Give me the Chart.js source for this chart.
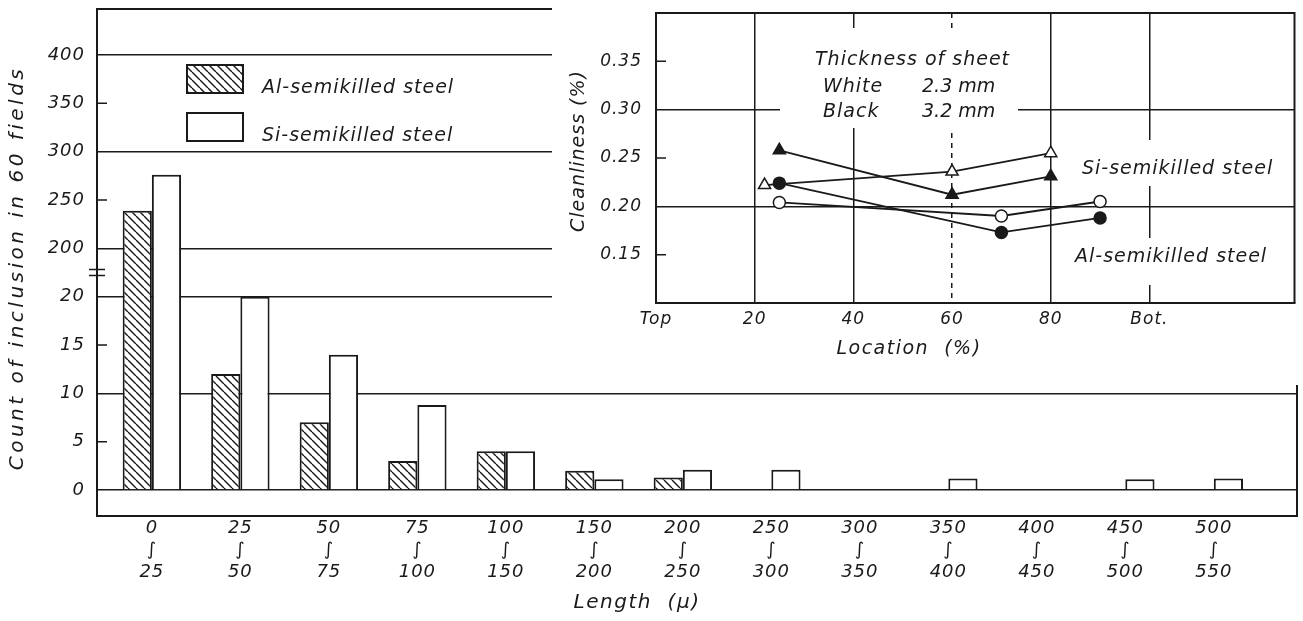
<!DOCTYPE html>
<html>
<head>
    <title>Count of inclusion by length</title>
    <style>
        body {
            margin: 0;
            background: #fff;
        }
        #wrap {
            position: relative;
            width: 1303px;
            height: 621px;
        }
        #main {
            position: absolute;
            left: 0;
            top: 0;
        }
        #inset {
            position: absolute;
            left: 552px;
            top: 0;
            background: #fff;
        }
    </style>
    <script src="https://cdn.jsdelivr.net/npm/chart.js"></script>
</head>
<body>
<div id="wrap">
    <canvas id="main" width="1303" height="621"></canvas>
    <canvas id="inset" width="751" height="385"></canvas>
</div>
<script>
    // main chart: inclusion counts per length class (microns)
    const binLow  = ['0', '25', '50', '75', '100', '150', '200', '250', '300', '350', '400', '450', '500'];
    const binHigh = ['25', '50', '75', '100', '150', '200', '250', '300', '350', '400', '450', '500', '550'];
    const alCount = [239, 12, 7, 3, 4, 2, 1.3, 0, 0, 0, 0, 0, 0];
    const siCount = [276, 20, 14, 8.8, 4, 1.1, 2.1, 2.1, 0, 1.2, 0, 1.1, 1.2];
    const countTicks = [0, 5, 10, 15, 20, 200, 250, 300, 350, 400];
    const countLines = [0, 10, 20, 200, 300, 400];

    // inset: cleanliness vs location in the ingot
    const locTicks = [0, 20, 40, 60, 80, 100];
    const locLabels = ['Top', '20', '40', '60', '80', 'Bot.'];
    const cleanTicks = [0.15, 0.20, 0.25, 0.30, 0.35];
    const cleanLines = [0.20, 0.30];
    const siWhiteLoc = [22, 60, 80];
    const siWhiteVal = [0.222, 0.236, 0.255];
    const siBlackLoc = [25, 60, 80];
    const siBlackVal = [0.258, 0.212, 0.231];
    const alWhiteLoc = [25, 70, 90];
    const alWhiteVal = [0.204, 0.190, 0.205];
    const alBlackLoc = [25, 70, 90];
    const alBlackVal = [0.224, 0.173, 0.188];

    const INK = '#1a1a1a';
    const NONE = 'rgba(0,0,0,0)';

    Chart.defaults.font.family = "'DejaVu Sans', sans-serif";
    Chart.defaults.font.style = 'italic';
    Chart.defaults.font.size = 18;
    Chart.defaults.color = INK;
    Chart.defaults.animation = false;

    // broken axis: 0-20 in steps of 5, then 200-400 in steps of 50, same spacing
    function toAxis(v) {
        return v <= 20 ? v / 5 : 4 + (v - 150) / 50;
    }

    function label(ctx, str, x, y, opt) {
        ctx.save();
        ctx.font = 'italic ' + (opt.size || 19) + "px 'DejaVu Sans'";
        ctx.letterSpacing = (opt.spacing === undefined ? 1 : opt.spacing) + 'px';
        ctx.fillStyle = INK;
        ctx.textAlign = opt.align || 'left';
        ctx.textBaseline = opt.baseline || 'alphabetic';
        ctx.translate(x, y);
        if (opt.rotate) ctx.rotate(opt.rotate);
        ctx.fillText(str, 0, 0);
        ctx.restore();
    }

    function hatch(target) {
        const c = document.createElement('canvas');
        c.width = 8;
        c.height = 8;
        const g = c.getContext('2d');
        g.fillStyle = '#fff';
        g.fillRect(0, 0, 8, 8);
        g.strokeStyle = INK;
        g.lineWidth = 1.4;
        g.beginPath();
        for (let k = -1; k <= 1; k++) {
            g.moveTo(k * 8, 0);
            g.lineTo(k * 8 + 8, 8);
        }
        g.stroke();
        return target.getContext('2d').createPattern(c, 'repeat');
    }

    // keep the plot box where it is in the figure, whatever the labels need
    function fixBox(width, height) {
        return s => {
            if (width) s.width = width;
            if (height) s.height = height;
            s.paddingTop = 0;
            s.paddingBottom = 0;
            s.paddingLeft = 0;
            s.paddingRight = 0;
        };
    }

    const spacing = {
        id: 'spacing',
        beforeDraw(chart) {
            chart.ctx.letterSpacing = '1px';
        }
    };

    const mainDecor = {
        id: 'mainDecor',
        afterDraw(chart) {
            const ctx = chart.ctx;
            const a = chart.chartArea;
            const y = chart.scales.y;
            ctx.save();
            ctx.strokeStyle = INK;
            ctx.lineWidth = 2;
            ctx.beginPath();
            ctx.moveTo(a.left, a.top);
            ctx.lineTo(a.right, a.top);
            ctx.lineTo(a.right, a.bottom);
            ctx.stroke();

            // short ticks where no grid line runs across
            ctx.lineWidth = 1.5;
            ctx.beginPath();
            countTicks.filter(v => !countLines.includes(v)).forEach(v => {
                const py = y.getPixelForValue(toAxis(v));
                ctx.moveTo(a.left, py);
                ctx.lineTo(a.left + 10, py);
            });
            const pb = y.getPixelForValue(4.5);
            ctx.moveTo(a.left - 8, pb - 3);
            ctx.lineTo(a.left + 8, pb - 3);
            ctx.moveTo(a.left - 8, pb + 3);
            ctx.lineTo(a.left + 8, pb + 3);
            ctx.stroke();

            // legend
            chart.data.datasets.forEach((ds, i) => {
                const top = 65 + i * 48;
                ctx.fillStyle = ds.backgroundColor;
                ctx.fillRect(187, top, 56, 28);
                ctx.lineWidth = 2;
                ctx.strokeRect(187, top, 56, 28);
                label(ctx, ds.label, 262, top + 28, {});
            });
            ctx.restore();

            label(ctx, 'Count of inclusion in 60 fields', 18, 268,
                {size: 20, spacing: 3.5, align: 'center', baseline: 'middle', rotate: -Math.PI / 2});
            label(ctx, 'Length  (\u03bc)', 637, 603, {size: 20, spacing: 1.5, align: 'center', baseline: 'middle'});
        }
    };

    const mainCanvas = document.getElementById('main');
    new Chart(mainCanvas, {
        type: 'bar',
        data: {
            datasets: [{
                label: 'Al-semikilled steel',
                data: alCount.map((v, i) => ({x: i, y: toAxis(v)})),
                backgroundColor: hatch(mainCanvas),
                borderColor: INK,
                borderWidth: 2
            }, {
                label: 'Si-semikilled steel',
                data: siCount.map((v, i) => ({x: i, y: toAxis(v)})),
                backgroundColor: '#fff',
                borderColor: INK,
                borderWidth: 2
            }]
        },
        options: {
            responsive: false,
            layout: {padding: {top: 9, right: 6, left: 0, bottom: 0}},
            datasets: {bar: {barPercentage: 1, categoryPercentage: 0.66}},
            plugins: {legend: {display: false}, tooltip: {enabled: false}},
            scales: {
                x: {
                    type: 'linear',
                    offset: false,
                    min: -0.62,
                    max: 12.94,
                    afterBuildTicks: s => { s.ticks = binLow.map((b, i) => ({value: i})); },
                    afterFit: fixBox(0, 105),
                    ticks: {
                        callback: v => [binLow[v], '\u222b', binHigh[v]],
                        maxRotation: 0,
                        autoSkip: false,
                        padding: 2
                    },
                    grid: {display: false, offset: false, drawTicks: false},
                    border: {color: INK, width: 2}
                },
                y: {
                    min: -0.538,
                    max: 9.952,
                    afterBuildTicks: s => { s.ticks = countTicks.map(v => ({value: toAxis(v)})); },
                    afterFit: fixBox(97, 0),
                    ticks: {
                        callback: (v, i) => String(countTicks[i]),
                        padding: 12
                    },
                    grid: {
                        color: c => c.tick && countLines.map(toAxis).includes(c.tick.value) ? INK : NONE,
                        lineWidth: 1.5,
                        drawTicks: false
                    },
                    border: {color: INK, width: 2}
                }
            }
        },
        plugins: [spacing, mainDecor]
    });

    const insetDecor = {
        id: 'insetDecor',
        beforeDatasetsDraw(chart) {
            const ctx = chart.ctx;
            ctx.save();
            ctx.fillStyle = '#fff';
            ctx.fillRect(228, 28, 238, 100);
            ctx.fillRect(522, 140, 212, 46);
            ctx.fillRect(515, 238, 220, 47);
            ctx.restore();
            label(ctx, 'Thickness of sheet', 263, 65, {});
            label(ctx, 'White', 271, 92, {});
            label(ctx, '2.3 mm', 370, 92, {spacing: 0});
            label(ctx, 'Black', 271, 117, {});
            label(ctx, '3.2 mm', 370, 117, {spacing: 0});
            label(ctx, 'Si-semikilled steel', 530, 174, {});
            label(ctx, 'Al-semikilled steel', 523, 262, {});
        },
        afterDraw(chart) {
            const ctx = chart.ctx;
            const a = chart.chartArea;
            const y = chart.scales.y;
            ctx.save();
            ctx.strokeStyle = INK;
            ctx.lineWidth = 2;
            ctx.beginPath();
            ctx.moveTo(a.left, a.top);
            ctx.lineTo(a.right, a.top);
            ctx.lineTo(a.right, a.bottom);
            ctx.stroke();
            ctx.lineWidth = 1.5;
            ctx.beginPath();
            cleanTicks.filter(v => !cleanLines.includes(v)).forEach(v => {
                const py = y.getPixelForValue(v);
                ctx.moveTo(a.left, py);
                ctx.lineTo(a.left + 10, py);
            });
            ctx.stroke();
            ctx.restore();
            label(ctx, 'Cleanliness (%)', 27, 151, {align: 'center', baseline: 'middle', rotate: -Math.PI / 2});
            label(ctx, 'Location  (%)', 357, 349, {size: 19, spacing: 1.5, align: 'center', baseline: 'middle'});
        }
    };

    function series(locs, vals, style, fill) {
        return {
            data: locs.map((x, i) => ({x: x, y: vals[i]})),
            borderColor: INK,
            borderWidth: 1.8,
            pointStyle: style,
            pointRadius: style === 'triangle' ? 7 : 6,
            pointBackgroundColor: fill,
            pointBorderColor: INK,
            pointBorderWidth: 1.5,
            tension: 0
        };
    }

    new Chart(document.getElementById('inset'), {
        type: 'line',
        data: {
            datasets: [
                series(siWhiteLoc, siWhiteVal, 'triangle', '#fff'),
                series(siBlackLoc, siBlackVal, 'triangle', INK),
                series(alWhiteLoc, alWhiteVal, 'circle', '#fff'),
                series(alBlackLoc, alBlackVal, 'circle', INK)
            ]
        },
        options: {
            responsive: false,
            layout: {padding: {top: 13, right: 5, left: 0, bottom: 0}},
            plugins: {legend: {display: false}, tooltip: {enabled: false}},
            scales: {
                x: {
                    type: 'linear',
                    min: 0,
                    max: 129.4,
                    afterBuildTicks: s => { s.ticks = locTicks.map(v => ({value: v})); },
                    afterFit: fixBox(0, 82),
                    ticks: {
                        callback: (v, i) => locLabels[i],
                        font: {size: 17},
                        maxRotation: 0,
                        autoSkip: false,
                        padding: 6
                    },
                    grid: {
                        color: c => c.tick && c.tick.value > 0 ? INK : NONE,
                        lineWidth: 1.5,
                        drawTicks: false
                    },
                    border: {
                        color: INK,
                        width: 2,
                        dash: c => c.tick && c.tick.value === 60 ? [5, 5] : []
                    }
                },
                y: {
                    min: 0.10,
                    max: 0.40,
                    afterBuildTicks: s => { s.ticks = cleanTicks.map(v => ({value: v})); },
                    afterFit: fixBox(104, 0),
                    ticks: {
                        callback: (v, i) => cleanTicks[i].toFixed(2),
                        font: {size: 17},
                        padding: 14
                    },
                    grid: {
                        color: c => c.tick && cleanLines.some(v => Math.abs(v - c.tick.value) < 1e-9) ? INK : NONE,
                        lineWidth: 1.5,
                        drawTicks: false
                    },
                    border: {color: INK, width: 2}
                }
            }
        },
        plugins: [spacing, insetDecor]
    });
</script>
</body>
</html>
